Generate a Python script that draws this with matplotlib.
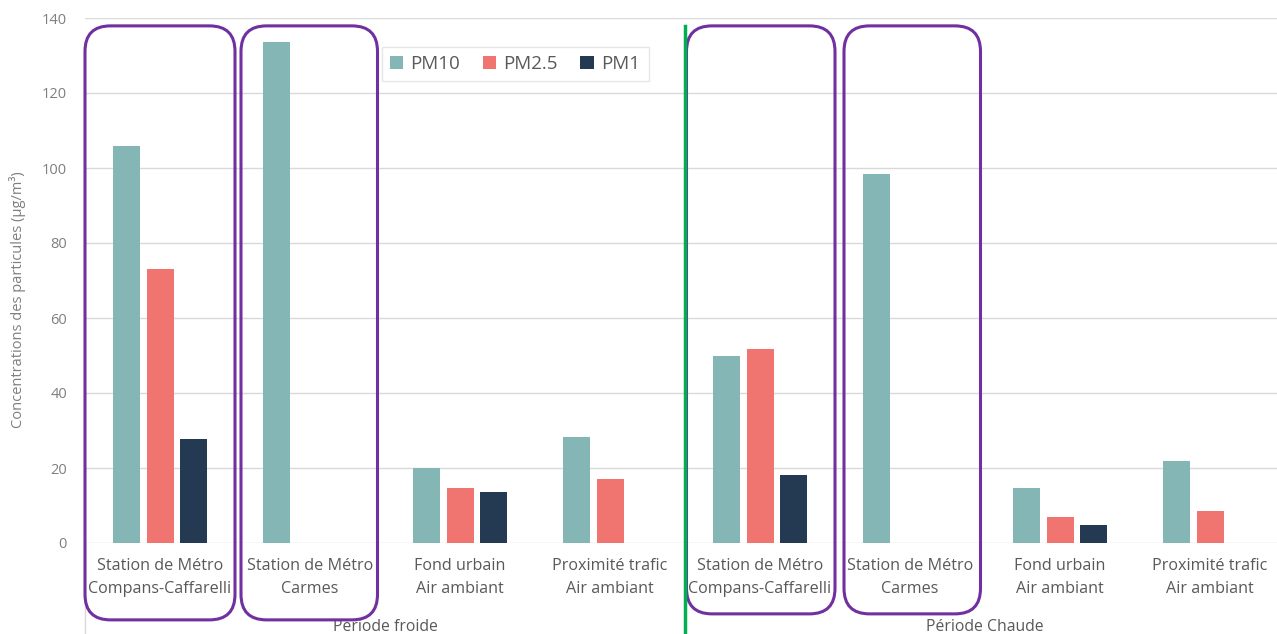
import matplotlib.pyplot as plt
import matplotlib.transforms as mtransforms
from matplotlib.patches import FancyBboxPatch
import numpy as np

plt.rcParams['font.family'] = ['Open Sans', 'DejaVu Sans']

# Data
categories = [
    "Station de Métro\nCompans-Caffarelli", "Station de Métro\nCarmes",
    "Fond urbain\nAir ambiant", "Proximité trafic\nAir ambiant",
    "Station de Métro\nCompans-Caffarelli", "Station de Métro\nCarmes",
    "Fond urbain\nAir ambiant", "Proximité trafic\nAir ambiant",
]
periods = ["Période froide", "Période Chaude"]
pm10 = [105.9, 133.6, 20.0, 28.3, 49.9, 98.4, 14.7, 21.9]
pm25 = [73.1, np.nan, 14.7, 17.0, 51.7, np.nan, 6.9, 8.5]
pm1 = [27.7, np.nan, 13.6, np.nan, 18.1, np.nan, 4.8, np.nan]
series_names = ["PM10", "PM2.5", "PM1"]
colors = ["#84B6B5", "#F07470", "#243A52"]

W, H = 1277, 634
fig = plt.figure(figsize=(W / 100, H / 100), dpi=100)
# axes runs a little past the right edge like the original screenshot
ax = fig.add_axes([85 / W, (H - 543) / H, 1200 / W, 525 / H])

x = np.arange(len(categories))
bw = 0.18
step = 0.223
for i, (vals, name, c) in enumerate(zip([pm10, pm25, pm1], series_names, colors)):
    ax.bar(x + (i - 1) * step, vals, width=bw, color=c, label=name, zorder=3)

ax.set_xlim(-0.5, 7.5)
ax.set_ylim(0, 140)
ax.set_yticks(range(0, 141, 20))
ax.grid(axis='y', color='#d9d9d9', linewidth=1, zorder=0)
for s in ax.spines.values():
    s.set_visible(False)
ax.tick_params(axis='y', length=0, pad=13, labelsize=10.5, labelcolor='#7f7f7f')
ax.set_xticks(x)
ax.set_xticklabels(categories, linespacing=1.6)
ax.tick_params(axis='x', length=0, pad=11, labelsize=11.6, labelcolor='#595959')

fig.text(18 / W, (H - 300) / H, "Concentrations des particules (µg/m³)",
         rotation=90, ha='center', va='center', fontsize=10.5, color='#7f7f7f')

# group labels and separators below the axis
bt = mtransforms.blended_transform_factory(ax.transData, ax.transAxes)
for k, p in enumerate(periods):
    ax.text(1.5 + 4 * k, -(627 - 543) / 525, p, transform=bt, ha='center',
            va='center', fontsize=11.3, color='#595959')
for xs in [-0.5, 3.5]:
    ax.plot([xs, xs], [0, -24.3], color='#d9d9d9', lw=1, clip_on=False, zorder=1)

# purple highlight boxes (rounded) around metro stations
aspect = 150 / 3.75
boxes = [(-0.5, 1.0, -20.5), (0.54, 0.91, -20.5), (3.51, 0.99, -18.9), (4.56, 0.91, -18.9)]
for x0, wdt, ybot in boxes:
    ax.add_patch(FancyBboxPatch((x0, ybot), wdt, 137.9 - ybot,
                                boxstyle="round,pad=0,rounding_size=0.17",
                                mutation_aspect=aspect, fill=False,
                                edgecolor='#7030A0', lw=2.2, clip_on=False, zorder=5))

# green separator between the two periods
ax.plot([3.5, 3.5], [-24.5, 137.9], color='#00B050', lw=2.5, clip_on=False, zorder=6)

leg = ax.legend(loc='center', bbox_to_anchor=(515 / W, (H - 64) / H),
                bbox_transform=fig.transFigure, ncol=3, fontsize=13.5,
                handlelength=0.7, handleheight=0.7, handletextpad=0.4,
                columnspacing=1.2, fancybox=False, framealpha=1,
                edgecolor='#e6e6e6', borderpad=0.45)
for t in leg.get_texts():
    t.set_color('#595959')

fig.savefig("out.png", dpi=100)
